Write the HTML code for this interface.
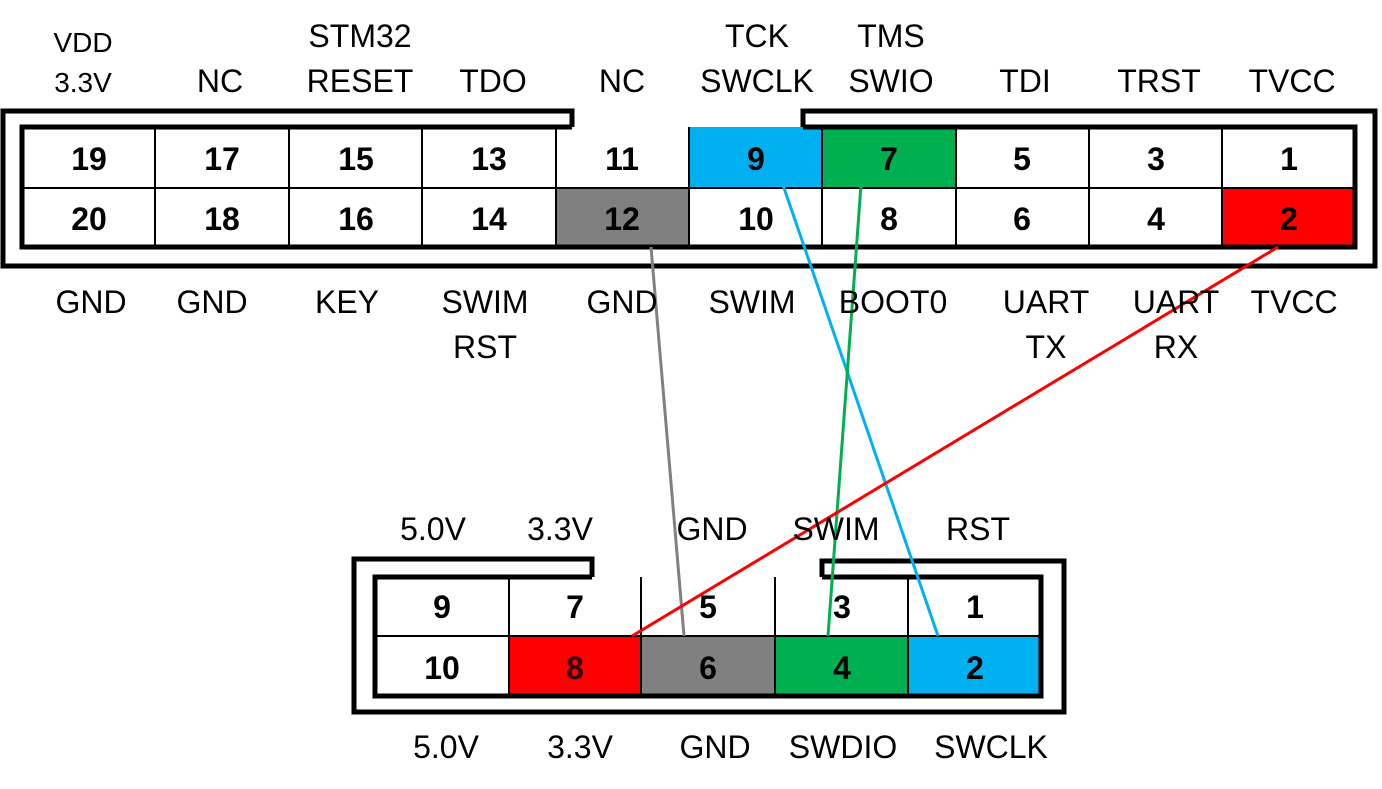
<!DOCTYPE html>
<html><head><meta charset="utf-8"><style>
html,body{margin:0;padding:0;background:#fff;}
svg{display:block;}
text{font-family:"Liberation Sans",sans-serif;}
.n{font-size:32px;font-weight:bold;text-anchor:middle;}
.l{font-size:32px;text-anchor:middle;}
</style></head><body>
<svg width="1382" height="789" viewBox="0 0 1382 789" xmlns="http://www.w3.org/2000/svg">
<rect x="689" y="127" width="133" height="61" fill="#00b0f0"/>
<rect x="822" y="127" width="134" height="61" fill="#00b050"/>
<rect x="556" y="188" width="133" height="59" fill="#808080"/>
<rect x="1222" y="188" width="133" height="59" fill="#ff0000"/>
<g stroke="#000" stroke-width="2" fill="none">
<line x1="22" y1="188" x2="1355" y2="188"/>
<line x1="155" y1="127" x2="155" y2="247"/>
<line x1="289" y1="127" x2="289" y2="247"/>
<line x1="422" y1="127" x2="422" y2="247"/>
<line x1="556" y1="127" x2="556" y2="247"/>
<line x1="689" y1="127" x2="689" y2="247"/>
<line x1="822" y1="127" x2="822" y2="247"/>
<line x1="956" y1="127" x2="956" y2="247"/>
<line x1="1089" y1="127" x2="1089" y2="247"/>
<line x1="1222" y1="127" x2="1222" y2="247"/>
</g>
<g stroke="#000" stroke-width="5" fill="none">
<polyline points="572,127 22,127 22,247 1355,247 1355,127 803,127"/>
<polyline points="572,127 572,111 3,111 3,266 1375,266 1375,111 803,111 803,127"/>
</g>
<rect x="509" y="636" width="132" height="60" fill="#ff0000"/>
<rect x="641" y="636" width="134" height="60" fill="#808080"/>
<rect x="775" y="636" width="133" height="60" fill="#00b050"/>
<rect x="908" y="636" width="133" height="60" fill="#00b0f0"/>
<g stroke="#000" stroke-width="2" fill="none">
<line x1="375" y1="636" x2="1041" y2="636"/>
<line x1="509" y1="577" x2="509" y2="696"/>
<line x1="641" y1="577" x2="641" y2="696"/>
<line x1="775" y1="577" x2="775" y2="696"/>
<line x1="908" y1="577" x2="908" y2="696"/>
</g>
<g stroke="#000" stroke-width="5" fill="none">
<polyline points="592,577 375,577 375,696 1041,696 1041,577 822,577"/>
<polyline points="592,577 592,559 354,559 354,712 1064,712 1064,561 822,561 822,577"/>
</g>
<line x1="651" y1="247" x2="684" y2="636" stroke="#808080" stroke-width="3"/>
<line x1="783" y1="185" x2="938" y2="636" stroke="#00b0f0" stroke-width="3"/>
<line x1="861" y1="185" x2="828" y2="636" stroke="#00b050" stroke-width="3"/>
<line x1="1278" y1="247" x2="632" y2="636" stroke="#ff0000" stroke-width="3"/>
<g>
<text x="89" y="170" class="n">19</text><text x="222" y="170" class="n">17</text><text x="356" y="170" class="n">15</text><text x="489" y="170" class="n">13</text><text x="622" y="170" class="n">11</text><text x="756" y="170" class="n">9</text><text x="889" y="170" class="n">7</text><text x="1022" y="170" class="n">5</text><text x="1156" y="170" class="n">3</text><text x="1289" y="170" class="n">1</text>
<text x="89" y="230" class="n">20</text><text x="222" y="230" class="n">18</text><text x="356" y="230" class="n">16</text><text x="489" y="230" class="n">14</text><text x="622" y="230" class="n">12</text><text x="756" y="230" class="n">10</text><text x="889" y="230" class="n">8</text><text x="1022" y="230" class="n">6</text><text x="1156" y="230" class="n">4</text><text x="1289" y="230" class="n">2</text>
<text x="442" y="618" class="n">9</text><text x="575" y="618" class="n">7</text><text x="708" y="618" class="n">5</text><text x="842" y="618" class="n">3</text><text x="975" y="618" class="n">1</text>
<text x="442" y="679" class="n">10</text><text x="575" y="679" class="n" fill="#300">8</text><text x="708" y="679" class="n">6</text><text x="842" y="679" class="n">4</text><text x="975" y="679" class="n">2</text>
</g>
<text x="83" y="52" style="font-size:28px;text-anchor:middle">VDD</text>
<text x="83" y="92" style="font-size:28px;text-anchor:middle">3.3V</text>
<text x="220" y="92" class="l">NC</text>
<text x="360" y="47" class="l">STM32</text><text x="360" y="92" class="l">RESET</text>
<text x="493" y="92" class="l">TDO</text>
<text x="622" y="92" class="l">NC</text>
<text x="757" y="47" class="l">TCK</text><text x="757" y="92" class="l">SWCLK</text>
<text x="891" y="47" class="l">TMS</text><text x="891" y="92" class="l">SWIO</text>
<text x="1025" y="92" class="l">TDI</text>
<text x="1159" y="92" class="l">TRST</text>
<text x="1292" y="92" class="l">TVCC</text>
<text x="91" y="313" class="l">GND</text>
<text x="212" y="313" class="l">GND</text>
<text x="347" y="313" class="l">KEY</text>
<text x="485" y="313" class="l">SWIM</text><text x="485" y="358" class="l">RST</text>
<text x="622" y="313" class="l">GND</text>
<text x="752" y="313" class="l">SWIM</text>
<text x="893" y="313" class="l">BOOT0</text>
<text x="1046" y="313" class="l">UART</text><text x="1046" y="358" class="l">TX</text>
<text x="1176" y="313" class="l">UART</text><text x="1176" y="358" class="l">RX</text>
<text x="1294" y="313" class="l">TVCC</text>
<text x="433" y="540" class="l">5.0V</text>
<text x="560" y="540" class="l">3.3V</text>
<text x="712" y="540" class="l">GND</text>
<text x="836" y="540" class="l">SWIM</text>
<text x="978" y="540" class="l">RST</text>
<text x="446" y="758" class="l">5.0V</text>
<text x="580" y="758" class="l">3.3V</text>
<text x="715" y="758" class="l">GND</text>
<text x="843" y="758" class="l">SWDIO</text>
<text x="991" y="758" class="l">SWCLK</text>
</svg>
</body></html>
